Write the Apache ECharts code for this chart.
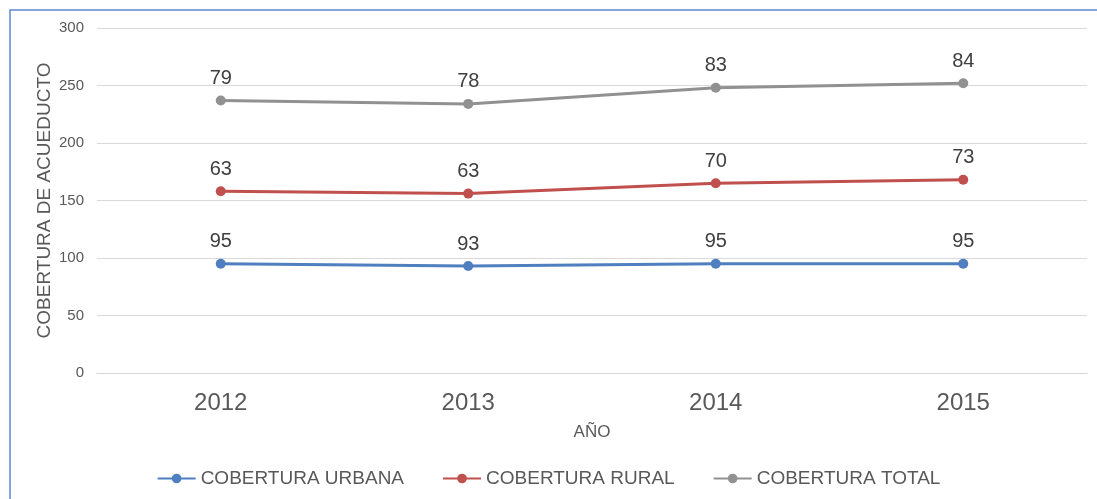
<!DOCTYPE html>
<html>
<head>
<meta charset="utf-8">
<script src="https://cdn.jsdelivr.net/npm/echarts@6/dist/echarts.min.js"></script>
<style>
  html, body { margin: 0; padding: 0; background: #fff; }
  #chart { width: 1097px; height: 499px; }
</style>
</head>
<body>
<div id="chart"></div>
<script>
let years = ['2012', '2013', '2014', '2015'];
let urbana = [95, 93, 95, 95];
let rural = [63, 63, 70, 73];
let total = [79, 78, 83, 84];
let seriesNames = ['COBERTURA URBANA', 'COBERTURA RURAL', 'COBERTURA TOTAL'];
let colors = ['#4f7fbf', '#c0504d', '#919191'];

let chart = echarts.init(document.getElementById('chart'));

// las series van apiladas, la etiqueta muestra el valor propio
function makeSeries(name, data, color) {
    return {
        name: name,
        type: 'line',
        stack: 'cobertura',
        data: data,
        symbol: 'circle',
        symbolSize: 10,
        lineStyle: { color: color, width: 3 },
        itemStyle: { color: color },
        label: {
            show: true,
            position: 'top',
            distance: 7,
            color: '#404040',
            fontSize: 20,
            fontFamily: 'Liberation Sans'
        }
    };
}

chart.setOption({
    animation: false,
    textStyle: { fontFamily: 'Liberation Sans' },
    graphic: [{
        type: 'rect',
        shape: { x: 10, y: 10, width: 1100, height: 500 },
        style: { fill: 'none', stroke: '#5b8bd0', lineWidth: 1.5 },
        silent: true
    }],
    grid: { left: 97, right: 10, top: 28, bottom: 126 },
    legend: {
        bottom: 6,
        left: 'center',
        itemWidth: 38,
        itemHeight: 12,
        itemGap: 38,
        textStyle: { color: '#595959', fontSize: 19 },
        data: seriesNames
    },
    xAxis: {
        type: 'category',
        data: years,
        boundaryGap: true,
        name: 'AÑO',
        nameLocation: 'middle',
        nameGap: 51,
        nameTextStyle: { color: '#595959', fontSize: 17 },
        axisLine: { lineStyle: { color: '#d9d9d9' } },
        axisTick: { show: false },
        axisLabel: { color: '#595959', fontSize: 24, margin: 18 }
    },
    yAxis: {
        type: 'value',
        min: 0,
        max: 300,
        interval: 50,
        name: 'COBERTURA DE ACUEDUCTO',
        nameLocation: 'middle',
        nameGap: 43,
        nameMoveOverlap: false,
        nameTextStyle: { color: '#595959', fontSize: 19 },
        axisLine: { show: false },
        axisTick: { show: false },
        axisLabel: { color: '#595959', fontSize: 15, margin: 13 },
        splitLine: { lineStyle: { color: '#d9d9d9' } }
    },
    series: [
        makeSeries(seriesNames[0], urbana, colors[0]),
        makeSeries(seriesNames[1], rural, colors[1]),
        makeSeries(seriesNames[2], total, colors[2])
    ]
});
</script>
</body>
</html>
